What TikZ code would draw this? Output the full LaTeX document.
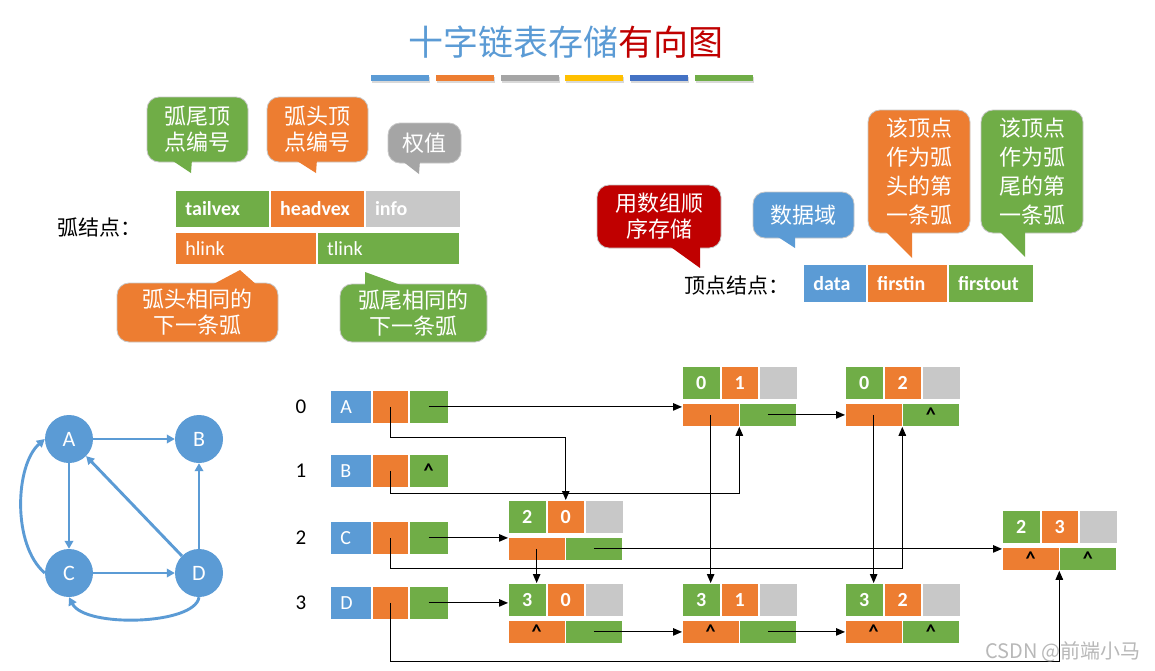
\documentclass[tikz,border=0pt]{standalone}
\usepackage{fontspec}
\setmainfont{Carlito}
\newfontfamily\cjk{Noto Sans CJK SC}
\usetikzlibrary{arrows.meta}
\definecolor{cblue}{HTML}{5B9BD5}
\definecolor{corange}{HTML}{ED7D31}
\definecolor{cgreen}{HTML}{70AD47}
\definecolor{cgray}{HTML}{C8C8C8}
\definecolor{cgraybar}{HTML}{A5A5A5}
\definecolor{cgold}{HTML}{FFC000}
\definecolor{cdblue}{HTML}{4472C4}
\definecolor{cred}{HTML}{C00000}
\newcommand\nullp{\textbf{\textasciicircum}}

\begin{document}
\begin{tikzpicture}[x=1pt, y=-1pt, >={Triangle[length=9pt,width=7.5pt]},
  cell/.style={draw=white, line width=0.8pt, inner sep=0pt, text=white, font=\fontsize{20}{24}\selectfont},
  lcell/.style={cell, inner xsep=10pt, align=left, anchor=north west},
  acell/.style={cell, font=\fontsize{20}{24}\selectfont\bfseries, anchor=north west},
  callout/.style={rounded corners=12pt, draw=black!22, line width=0.8pt, text=white, align=center,
    inner sep=0pt, font=\cjk\fontsize{22}{26}\selectfont},
  gnode/.style={circle, fill=cblue, minimum size=48pt, inner sep=0pt, text=white, font=\fontsize{22}{26}\selectfont},
  gedge/.style={draw=cblue, line width=2.9pt, -{Triangle[length=8pt,width=8.5pt]}},
  link/.style={draw=black, line width=1.1pt, ->}]
\fill[white] (0,0) rectangle (1155,670);
\useasboundingbox (0,0) rectangle (1155,670);

% title and colour bars
\node[font=\cjk\fontsize{35}{40}\selectfont] (title) at (566,42)
  {\textcolor{cblue}{十字链表存储}\textcolor{cred}{有向图}};
\foreach \c [count=\k from 0] in {cblue,corange,cgraybar,cgold,cdblue,cgreen} {
 \fill[black!15] (372+64.8*\k,77) rectangle ++(58,6);
 \fill[\c] (371+64.8*\k,75) rectangle ++(58,6);
}

% arc node legend
\node[anchor=west, font=\cjk\fontsize{21}{24}\selectfont] (arclab) at (54,227) {弧结点：};
\node[lcell, fill=cgreen, minimum height=37pt, text width=74pt] (tailvex) at (175,190) {\textbf{tailvex}};
\node[lcell, fill=corange, minimum height=37pt, text width=74pt] (headvex) at (tailvex.north east) {\textbf{headvex}};
\node[lcell, fill=cgray, minimum height=37pt, text width=75pt] (info) at (headvex.north east) {\textbf{info}};
\node[lcell, fill=corange, minimum height=32pt, text width=121pt] (hlink) at (175,232) {hlink};
\node[lcell, fill=cgreen, minimum height=32pt, text width=122pt] (tlink) at (hlink.north east) {tlink};

% vertex node legend
\node[anchor=west, font=\cjk\fontsize{21}{24}\selectfont] (vexlab) at (681,286) {顶点结点：};
\node[lcell, fill=cblue, minimum height=38pt, text width=43pt] (data) at (803,264) {\textbf{data}};
\node[lcell, fill=corange, minimum height=38pt, text width=60pt] (firstin) at (data.north east) {\textbf{firstin}};
\node[lcell, fill=cgreen, minimum height=38pt, text width=65pt] (firstout) at (firstin.north east) {\textbf{firstout}};

% callouts
\node[callout, fill=cgreen, minimum width=101pt, minimum height=65pt] (ctail) at (197.5,129.5) {弧尾顶\\点编号};
\fill[cgreen] (170,159) -- (192,159) -- (191,173) -- cycle;
\node[callout, fill=corange, minimum width=101pt, minimum height=65pt] (chead) at (317.5,129.5) {弧头顶\\点编号};
\fill[corange] (294,159) -- (317,159) -- (316,173) -- cycle;
\node[callout, fill=cgraybar, minimum width=73pt, minimum height=40pt] (cinfo) at (424.5,143) {权值};
\fill[cgraybar] (401,160) -- (420,160) -- (419,174) -- cycle;
\node[callout, fill=corange, minimum width=161pt, minimum height=59pt] (chl) at (197.5,312.5) {弧头相同的\\下一条弧};
\fill[corange] (210,286) -- (258,286) -- (240,270) -- cycle;
\node[callout, fill=cgreen, minimum width=147pt, minimum height=58pt] (ctl) at (413.5,313) {弧尾相同的\\下一条弧};
\fill[cgreen] (365,287) -- (365,272) -- (406,287) -- cycle;
\node[callout, fill=cred, minimum width=124pt, minimum height=63pt] (carr) at (659,216.5) {用数组顺\\序存储};
\fill[cred] (668,245) -- (700,245) -- (700,268) -- cycle;
\node[callout, fill=cblue, minimum width=101pt, minimum height=46pt] (cdata) at (803.5,215) {数据域};
\fill[cblue] (775,235) -- (795,235) -- (795,248) -- cycle;
\node[callout, fill=corange, minimum width=102pt, minimum height=123pt, font=\cjk\fontsize{22}{29}\selectfont] (cin) at (919,171.5) {该顶点\\作为弧\\头的第\\一条弧};
\fill[corange] (884,230) -- (912,230) -- (912,258) -- cycle;
\node[callout, fill=cgreen, minimum width=102pt, minimum height=123pt, font=\cjk\fontsize{22}{29}\selectfont] (cout) at (1032,171.5) {该顶点\\作为弧\\尾的第\\一条弧};
\fill[cgreen] (998,230) -- (1025,230) -- (1025,257) -- cycle;

% the digraph
\node[gnode] (A) at (69,439) {A};
\node[gnode] (B) at (199,439) {B};
\node[gnode] (C) at (69,573) {C};
\node[gnode] (D) at (199,573) {D};
\draw[gedge] (A) -- (B);
\draw[gedge] (A) -- (C);
\draw[gedge] (C) -- (D);
\draw[gedge] (D) -- (B);
\draw[gedge] (D.north west) -- (A.south east);
\draw[gedge] (C.west) .. controls (12,545) and (15,465) .. (A.west);
\draw[gedge] (D.south) .. controls (195,625) and (85,628) .. (C.south);

% vertex array
\foreach \i/\v/\y/\o in {0/A/390/{}, 1/B/454/\nullp, 2/C/521/{}, 3/D/586/{}} {
 \node[font=\fontsize{21}{24}\selectfont] (r\i) at (301,\y+17) {\i};
 \node[cell, fill=cblue, minimum width=41pt, minimum height=33pt, anchor=north west, text width=21pt, inner xsep=10pt] (v\i d) at (330,\y) {\v};
 \node[cell, fill=corange, minimum width=36pt, minimum height=33pt, anchor=north west] (v\i in) at (v\i d.north east) {};
 \node[cell, fill=cgreen, minimum width=39pt, minimum height=33pt, anchor=north west, text=black] (v\i out) at (v\i in.north east) {\o};
}

% arc nodes
\foreach \n/\x/\y/\t/\h/\hl/\tl in {a01/682/366/0/1/{}/{}, a02/845/366/0/2/{}/\nullp,
  a20/508/500/2/0/{}/{}, a30/508/583/3/0/\nullp/{}, a31/682/583/3/1/\nullp/{},
  a32/845/583/3/2/\nullp/\nullp, a23/1002/510/2/3/\nullp/\nullp} {
 \node[acell, fill=cgreen, minimum width=37.7pt, minimum height=33pt] (\n t) at (\x,\y) {\t};
 \node[acell, fill=corange, minimum width=37.7pt, minimum height=33pt] (\n h) at (\n t.north east) {\h};
 \node[acell, fill=cgray, minimum width=37.7pt, minimum height=33pt] (\n i) at (\n h.north east) {};
 \node[acell, fill=corange, minimum width=56.5pt, minimum height=23pt, text=black] (\n hl) at (\x,\y+37) {\hl};
 \node[acell, fill=cgreen, minimum width=56.5pt, minimum height=23pt, text=black] (\n tl) at (\n hl.north east) {\tl};
}

% firstout / tlink chains
\draw[link] (v0out.center) -- (v0out.center -| a01hl.west);
\draw[link] (a01tl.center) -- (a01tl.center -| a02hl.west);
\draw[link] (v2out.center) -- (v2out.center -| a20hl.west);
\draw[link] (a20tl.center) -- (a20tl.center -| a23hl.west);
\draw[link] (v3out.center) -- (v3out.center -| a30t.west);
\draw[link] (a30tl.center) -- (a30tl.center -| a31hl.west);
\draw[link] (a31tl.center) -- (a31tl.center -| a32hl.west);
% firstin / hlink chains
\draw[link] (v0in.center) -- ++(0,31) -| (a20h.north);
\draw[link] (a20hl.center) -- (a20hl.center |- a30t.north);
\draw[link] (v1in.center) -- ++(0,23) -| (a01hl.south east);
\draw[link] (a01hl.center) -- (a01hl.center |- a31t.north);
\draw[link] (v2in.center) -- ++(0,31) -| (a02hl.south east);
\draw[link] (a02hl.center) -- (a02hl.center |- a32t.north);
\draw[link] (v3in.center) -- ++(0,59) -| (a23hl.south east);

\node[text=black!28, font=\cjk\fontsize{20}{24}\selectfont] (wm) at (1063,652) {CSDN @前端小马};
\end{tikzpicture}
\end{document}
